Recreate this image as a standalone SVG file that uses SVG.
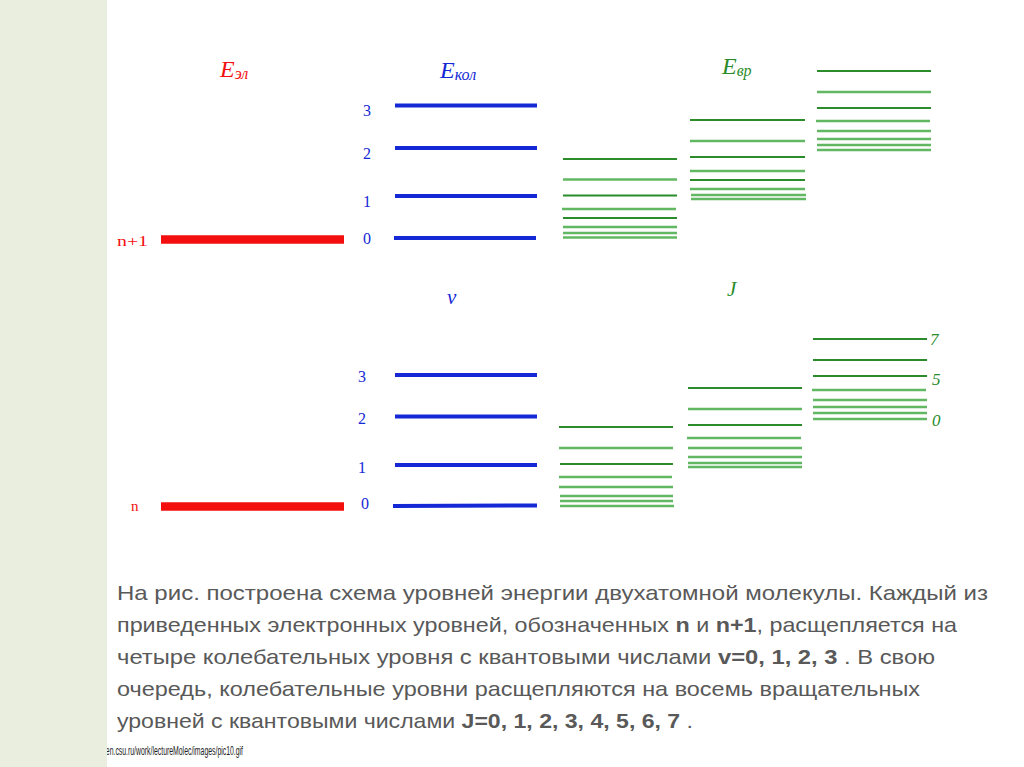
<svg xmlns="http://www.w3.org/2000/svg" width="1024" height="767" viewBox="0 0 1024 767">
<style>
.red{stroke:#f40f0f;stroke-width:8.5;fill:none}
.blue{stroke:#1428d6;stroke-width:4;fill:none}
.gd{stroke:#2a8c2a;stroke-width:2;fill:none}
.gl{stroke:#62b862;stroke-width:2.5;fill:none}
.num{font-family:"Liberation Serif",serif;font-size:16px;fill:#1428d6;text-anchor:middle}
.lab{font-family:"Liberation Serif",serif;font-style:italic}
.gnum{font-family:"Liberation Serif",serif;font-style:italic;font-size:17px;fill:#2a8c2a}
.para{font-family:"Liberation Sans",sans-serif;font-size:21px;fill:#595959}
.b{font-weight:bold}
</style>
<rect x="0" y="0" width="1024" height="767" fill="#ffffff"/>

<g id="labels">
<text class="lab" x="220" y="77" fill="#f40f0f" font-size="24">E<tspan font-size="16" dy="2">эл</tspan></text>
<text class="lab" x="440" y="78" fill="#1428d6" font-size="24">E<tspan font-size="16" dy="2">кол</tspan></text>
<text class="lab" x="722" y="74" fill="#2a8c2a" font-size="24">E<tspan font-size="16" dy="2">вр</tspan></text>
<text class="lab" x="447" y="304" fill="#1428d6" font-size="21">v</text>
<text class="lab" x="727" y="296" fill="#2a8c2a" font-size="21">J</text>
</g>

<g id="electronic-upper">
<line class="red" x1="161" y1="239.5" x2="344" y2="239.5"/>
<text x="117" y="246" font-family="Liberation Serif,serif" font-size="15" fill="#f40f0f" textLength="31" lengthAdjust="spacingAndGlyphs">n+1</text>
</g>
<g id="electronic-lower">
<line class="red" x1="161" y1="506.5" x2="344" y2="506.5"/>
<text x="131" y="511" font-family="Liberation Serif,serif" font-size="15" fill="#f40f0f">n</text>
</g>

<g id="vibrational-upper">
<line class="blue" x1="395" y1="105.5" x2="537" y2="105.5"/>
<line class="blue" x1="395" y1="148" x2="537" y2="148"/>
<line class="blue" x1="395" y1="196" x2="537" y2="196"/>
<line class="blue" x1="394" y1="238" x2="536" y2="238"/>
<text class="num" x="367" y="116">3</text>
<text class="num" x="367" y="159">2</text>
<text class="num" x="367" y="207">1</text>
<text class="num" x="367" y="244">0</text>
</g>
<g id="vibrational-lower">
<line class="blue" x1="395" y1="375" x2="537" y2="375"/>
<line class="blue" x1="395" y1="416.5" x2="537" y2="416.5"/>
<line class="blue" x1="395" y1="465" x2="537" y2="465"/>
<line class="blue" x1="393" y1="506" x2="537" y2="505.5"/>
<text class="num" x="362" y="382">3</text>
<text class="num" x="362" y="424">2</text>
<text class="num" x="362" y="473">1</text>
<text class="num" x="365" y="509">0</text>
</g>

<g id="rot-upper-0">
<line class="gd" x1="563" y1="159" x2="677" y2="159"/>
<line class="gl" x1="563" y1="179.5" x2="677" y2="179.5"/>
<line class="gd" x1="563" y1="195.5" x2="677" y2="195.5"/>
<line class="gl" x1="562" y1="209" x2="676" y2="209"/>
<line class="gd" x1="563" y1="218" x2="677" y2="218"/>
<line class="gl" x1="563" y1="227" x2="677" y2="227"/>
<line class="gl" x1="563" y1="233" x2="677" y2="233"/>
<line class="gl" x1="563" y1="237.5" x2="677" y2="237.5"/>
</g>
<g id="rot-upper-1">
<line class="gd" x1="690" y1="120" x2="805" y2="120"/>
<line class="gl" x1="690" y1="141" x2="805" y2="141"/>
<line class="gd" x1="690" y1="157" x2="805" y2="157"/>
<line class="gl" x1="690" y1="171" x2="805" y2="171"/>
<line class="gd" x1="690" y1="180" x2="805" y2="180"/>
<line class="gl" x1="690" y1="189" x2="805" y2="189"/>
<line class="gl" x1="691" y1="195" x2="806" y2="195"/>
<line class="gl" x1="691" y1="199" x2="806" y2="199"/>
</g>
<g id="rot-upper-2">
<line class="gd" x1="817" y1="71" x2="931" y2="71"/>
<line class="gl" x1="817" y1="92" x2="931" y2="92"/>
<line class="gd" x1="817" y1="108" x2="931" y2="108"/>
<line class="gl" x1="816" y1="121" x2="930" y2="121"/>
<line class="gl" x1="817" y1="131" x2="931" y2="131"/>
<line class="gl" x1="817" y1="139" x2="931" y2="139"/>
<line class="gl" x1="817" y1="145" x2="931" y2="145"/>
<line class="gl" x1="817" y1="150" x2="931" y2="150"/>
</g>

<g id="rot-lower-0">
<line class="gd" x1="559" y1="427" x2="673" y2="427"/>
<line class="gl" x1="559" y1="448" x2="673" y2="448"/>
<line class="gd" x1="560" y1="464" x2="673" y2="464"/>
<line class="gl" x1="559" y1="477" x2="672" y2="477"/>
<line class="gl" x1="559" y1="487" x2="673" y2="487"/>
<line class="gl" x1="560" y1="496" x2="673" y2="496"/>
<line class="gl" x1="560" y1="501" x2="673" y2="501"/>
<line class="gl" x1="560" y1="506" x2="674" y2="506"/>
</g>
<g id="rot-lower-1">
<line class="gd" x1="688" y1="388" x2="802" y2="388"/>
<line class="gl" x1="688" y1="409" x2="802" y2="409"/>
<line class="gd" x1="688" y1="425" x2="802" y2="425"/>
<line class="gl" x1="687" y1="438" x2="801" y2="438"/>
<line class="gl" x1="688" y1="448" x2="802" y2="448"/>
<line class="gl" x1="688" y1="457" x2="802" y2="457"/>
<line class="gl" x1="688" y1="463" x2="802" y2="463"/>
<line class="gl" x1="688" y1="467" x2="802" y2="467"/>
</g>
<g id="rot-lower-2">
<line class="gd" x1="813" y1="339" x2="927" y2="339"/>
<line class="gd" x1="813" y1="360" x2="927" y2="360"/>
<line class="gd" x1="813" y1="376" x2="927" y2="376"/>
<line class="gl" x1="812" y1="390" x2="926" y2="390"/>
<line class="gl" x1="813" y1="400" x2="927" y2="400"/>
<line class="gl" x1="813" y1="407" x2="927" y2="407"/>
<line class="gl" x1="813" y1="413" x2="927" y2="413"/>
<line class="gl" x1="813" y1="419" x2="927" y2="419"/>
<text class="gnum" x="930" y="345">7</text>
<text class="gnum" x="932" y="385">5</text>
<text class="gnum" x="932" y="426">0</text>
</g>

<g id="caption">
<text class="para" x="117" y="600" textLength="871" lengthAdjust="spacingAndGlyphs">На рис. построена схема уровней энергии двухатомной молекулы. Каждый из</text>
<text class="para" x="117" y="632" textLength="840" lengthAdjust="spacingAndGlyphs">приведенных электронных уровней, обозначенных <tspan class="b">n</tspan> и <tspan class="b">n+1</tspan>, расщепляется на</text>
<text class="para" x="117" y="664" textLength="818" lengthAdjust="spacingAndGlyphs">четыре колебательных уровня с квантовыми числами <tspan class="b">v=0, 1, 2, 3</tspan> . В свою</text>
<text class="para" x="117" y="696" textLength="803" lengthAdjust="spacingAndGlyphs">очередь, колебательные уровни расщепляются на восемь вращательных</text>
<text class="para" x="117" y="728" textLength="576" lengthAdjust="spacingAndGlyphs">уровней с квантовыми числами <tspan class="b">J=0, 1, 2, 3, 4, 5, 6, 7</tspan> .</text>
<text x="102" y="755" font-family="Liberation Sans,sans-serif" font-size="13" fill="#222222" textLength="141" lengthAdjust="spacingAndGlyphs">nen.csu.ru/work/lectureMolec/images/pic10.gif</text>
</g>

<rect id="sidebar" x="0" y="0" width="107" height="767" fill="#eaeedf"/>
</svg>
